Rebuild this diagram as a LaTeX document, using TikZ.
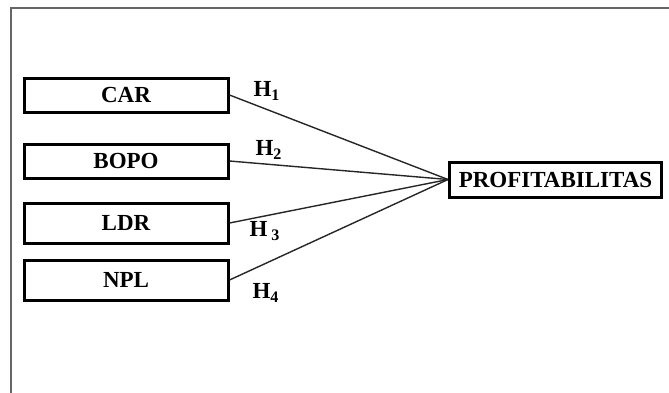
\documentclass[tikz,border=0pt]{standalone}
\usepackage{fontspec}
\setmainfont{Liberation Serif}
\usepackage{tikz}
\usetikzlibrary{positioning}

\begin{document}
\begin{tikzpicture}[
        x=0.5pt, y=-0.5pt,
        varbox/.style={draw=black, line width=1.5pt, minimum width=102pt, minimum height=17pt, inner sep=1pt, font=\fontsize{11.5}{13}\selectfont\bfseries},
        target/.style={draw=black, line width=1.5pt, minimum width=106pt, minimum height=17.5pt, inner sep=1pt, font=\fontsize{11.5}{13}\selectfont\bfseries},
        link/.style={line width=0.7pt, black!85},
        hyplabel/.style={font=\fontsize{11.5}{13}\selectfont\bfseries, inner sep=0pt}
    ]

    \useasboundingbox (0,0) rectangle (669,392);

    % Bingkai
    \draw[black!60, line width=1pt] (690,8) -- (10.5,8) -- (10.5,410);

    % Variabel bebas
    \node[varbox] (car) at (126,95) {CAR};
    \node[varbox] (bopo) at (126,161) {BOPO};
    \node[varbox, minimum height=20pt] (ldr) at (126,223) {LDR};
    \node[varbox, minimum height=20pt] (npl) at (126,280) {NPL};

    % Variabel terikat
    \node[target] (profit) at (555.5,179.5) {PROFITABILITAS};

    % Hubungan
    \draw[link] (car.east) -- (profit.west);
    \draw[link] (bopo.east) -- (profit.west);
    \draw[link] (ldr.east) -- (profit.west);
    \draw[link] (npl.east) -- (profit.west);

    % Hipotesis
    \node[hyplabel] (h1) at (267,91) {H\textsubscript{1}};
    \node[hyplabel] (h2) at (269,150) {H\textsubscript{2}};
    \node[hyplabel] (h3) at (265,231) {H\,\textsubscript{3}};
    \node[hyplabel] (h4) at (266,293) {H\textsubscript{4}};

\end{tikzpicture}
\end{document}
